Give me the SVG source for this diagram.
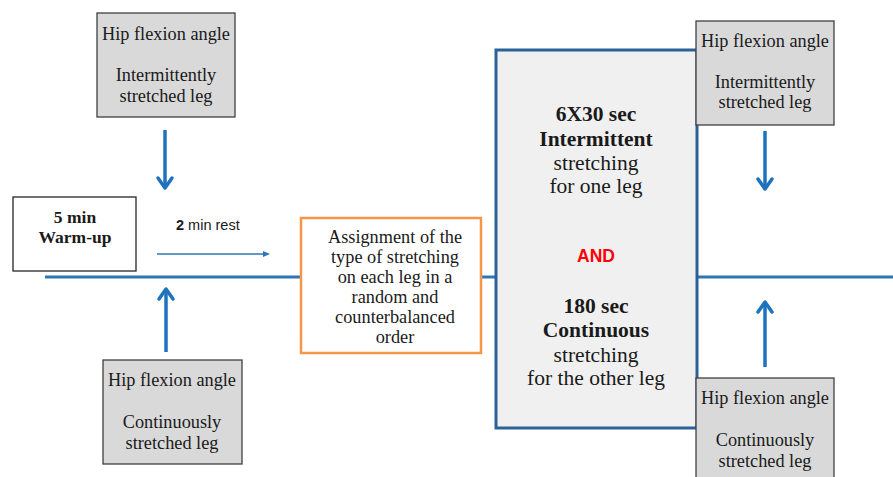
<svg xmlns="http://www.w3.org/2000/svg" width="893" height="477" viewBox="0 0 893 477">
<defs>
<style>
.gray{fill:#d9d9d9;stroke:#404040;stroke-width:1.3}
.serif{font-family:"Liberation Serif","Times New Roman",serif;fill:#1a1a1a;text-anchor:middle}
.hip{font-size:18.3px}
.asg{font-size:18.3px}
.big{font-size:21.5px}
.b{font-weight:bold}
.line{stroke:#2e75b6;stroke-width:3;fill:none}
.arr{stroke:#1f73bd;stroke-width:3.5;fill:none}
.head{stroke:#1f73bd;stroke-width:3.5;fill:none;stroke-linecap:round;stroke-linejoin:round}
</style>
</defs>
<rect width="893" height="477" fill="#ffffff"/>
<g id="connectors">
<line class="line" x1="45" y1="277" x2="301" y2="277"/>
<line class="line" x1="481" y1="277" x2="496" y2="277"/>
<line class="line" x1="697" y1="277" x2="893" y2="277"/>
<line x1="157" y1="254" x2="264" y2="254" stroke="#2e75b6" stroke-width="1.3"/>
<path d="M263,251 L270,254 L263,257 Z" fill="#2e75b6"/>
<line class="arr" x1="165" y1="130" x2="165" y2="187"/>
<path class="head" d="M158,178 L165,188 L172,178"/>
<line class="arr" x1="166" y1="352" x2="166" y2="291"/>
<path class="head" d="M159,299 L166,289 L173,299"/>
<line class="arr" x1="765" y1="131" x2="765" y2="188"/>
<path class="head" d="M758,179 L765,189 L772,179"/>
<line class="arr" x1="765" y1="367" x2="765" y2="304"/>
<path class="head" d="M758,312 L765,302 L772,312"/>
</g>
<g id="hip-int-left">
<rect class="gray" x="97" y="13" width="138" height="104"/>
<text class="serif hip" x="166" y="40">Hip flexion angle</text>
<text class="serif hip" x="166" y="81">Intermittently</text>
<text class="serif hip" x="166" y="102">stretched leg</text>
</g>
<g id="warmup">
<rect x="13" y="197" width="123" height="74" fill="#ffffff" stroke="#262626" stroke-width="1.3"/>
<text class="serif b" x="75" y="223" font-size="17.5">5 min</text>
<text class="serif b" x="75" y="243" font-size="17.5">Warm-up</text>
</g>
<g id="rest-label">
<text x="176" y="230" font-family="Liberation Sans, Arial, sans-serif" font-size="14.5" fill="#1a1a1a"><tspan font-weight="bold">2</tspan> min rest</text>
</g>
<g id="hip-cont-left">
<rect class="gray" x="103" y="360" width="139" height="104"/>
<text class="serif hip" x="172" y="386">Hip flexion angle</text>
<text class="serif hip" x="172" y="428">Continuously</text>
<text class="serif hip" x="172" y="449">stretched leg</text>
</g>
<g id="assignment">
<rect x="301" y="218" width="180" height="135" fill="#ffffff" stroke="#f79646" stroke-width="2.5"/>
<text class="serif asg" x="395" y="243">Assignment of the</text>
<text class="serif asg" x="395" y="263">type of stretching</text>
<text class="serif asg" x="395" y="283">on each leg in a</text>
<text class="serif asg" x="395" y="303">random and</text>
<text class="serif asg" x="395" y="323">counterbalanced</text>
<text class="serif asg" x="395" y="343">order</text>
</g>
<g id="stretching">
<rect x="496" y="50" width="201" height="378" fill="#f0f0f0" stroke="#2b6296" stroke-width="3"/>
<text class="serif big b" x="596" y="121">6X30 sec</text>
<text class="serif big b" x="596" y="146">Intermittent</text>
<text class="serif big" x="596" y="170">stretching</text>
<text class="serif big" x="596" y="193">for one leg</text>
<text x="596" y="262" font-family="Liberation Sans, Arial, sans-serif" font-size="17.5" font-weight="bold" fill="#ff0000" text-anchor="middle">AND</text>
<text class="serif big b" x="596" y="313">180 sec</text>
<text class="serif big b" x="596" y="337">Continuous</text>
<text class="serif big" x="596" y="362">stretching</text>
<text class="serif big" x="596" y="385">for the other leg</text>
</g>
<g id="hip-int-right">
<rect class="gray" x="696" y="21" width="138" height="104"/>
<text class="serif hip" x="765" y="47">Hip flexion angle</text>
<text class="serif hip" x="765" y="88">Intermittently</text>
<text class="serif hip" x="765" y="108">stretched leg</text>
</g>
<g id="hip-cont-right">
<rect class="gray" x="696" y="378" width="138" height="104"/>
<text class="serif hip" x="765" y="404">Hip flexion angle</text>
<text class="serif hip" x="765" y="446">Continuously</text>
<text class="serif hip" x="765" y="467">stretched leg</text>
</g>
</svg>
